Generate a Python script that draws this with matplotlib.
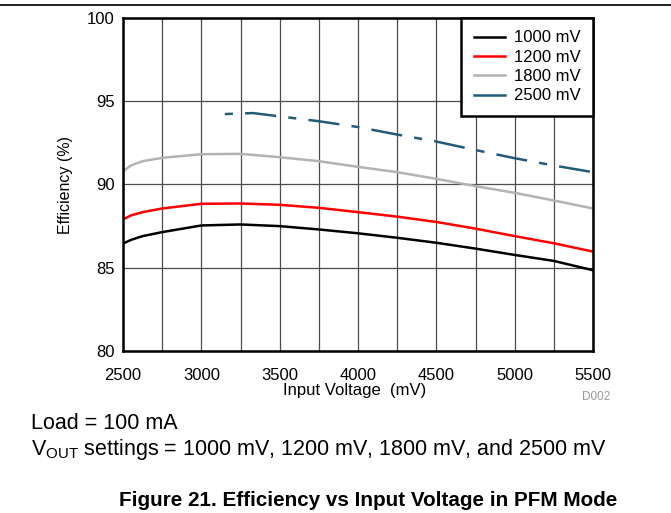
import matplotlib
matplotlib.use('Agg')
import matplotlib.pyplot as plt
from matplotlib.lines import Line2D

plt.rcParams['font.family'] = ['Liberation Sans', 'DejaVu Sans']
plt.rcParams['mathtext.fontset'] = 'custom'
plt.rcParams['mathtext.rm'] = 'Liberation Sans'
plt.rcParams['lines.scale_dashes'] = False

# ---- data ----
vin = [2500, 2550, 2625, 2750, 3000, 3250, 3500, 3750, 4000, 4250, 4500, 4750, 5000, 5250, 5500]
eff_1000 = [86.45, 86.67, 86.9, 87.14, 87.54, 87.6, 87.5, 87.3, 87.07, 86.8, 86.5, 86.15, 85.77, 85.41, 84.85]
eff_1200 = [87.9, 88.14, 88.34, 88.56, 88.84, 88.86, 88.78, 88.6, 88.34, 88.07, 87.75, 87.35, 86.9, 86.47, 85.97]
eff_1800 = [90.8, 91.14, 91.4, 91.6, 91.82, 91.84, 91.64, 91.4, 91.06, 90.74, 90.34, 89.9, 89.5, 89.04, 88.56]
vin_2500 = [3150, 3330, 3500, 3750, 4000, 4250, 4500, 4750, 5000, 5250, 5500]
eff_2500 = [94.23, 94.29, 94.09, 93.8, 93.45, 93.0, 92.58, 92.07, 91.58, 91.14, 90.74]

labels = ['1000 mV', '1200 mV', '1800 mV', '2500 mV']
colors = ['#000000', '#ff0000', '#b3b3b3', '#235a78']
x_major = [2500, 3000, 3500, 4000, 4500, 5000, 5500]
x_minor = [2750, 3250, 3750, 4250, 4750, 5250]
y_major = [80, 85, 90, 95, 100]

fig = plt.figure(figsize=(6.71, 5.13), dpi=100)
ax = fig.add_axes([123/671, 1-351/513, 470/671, 333/513])

lw = 1.8
l1, = ax.plot(vin, eff_1000, color=colors[0], lw=lw, label=labels[0])
l2, = ax.plot(vin, eff_1200, color=colors[1], lw=lw, label=labels[1])
l3, = ax.plot(vin, eff_1800, color=colors[2], lw=lw, label=labels[2])
l4, = ax.plot(vin_2500, eff_2500, color=colors[3], lw=lw,
              dashes=(5.8, 8.8, 22.5, 8.8))

ax.set_xlim(2500, 5500)
ax.set_ylim(80, 100)
ax.set_xticks(x_major)
ax.set_xticks(x_minor, minor=True)
ax.set_yticks(y_major)
ax.grid(True, which='both', color='#4d4d4d', lw=0.9)
ax.set_axisbelow(True)
ax.tick_params(which='both', length=0, labelsize=12)
ax.tick_params(axis='x', pad=12)
ax.tick_params(axis='y', pad=6)
for s in ax.spines.values():
    s.set_linewidth(1.8)
    s.set_color('black')

ax.set_xlabel('Input Voltage  (mV)', fontsize=12)
ax.xaxis.set_label_coords(0.493, -0.097)
ax.set_ylabel('Efficiency (%)', fontsize=11.5)
ax.yaxis.set_label_coords(-0.106, 0.5)

proxy = Line2D([], [], color=colors[3], lw=lw)
leg = ax.legend([l1, l2, l3, proxy], labels, loc='upper right', fontsize=12,
                borderaxespad=0, fancybox=False, framealpha=1, edgecolor='black',
                handlelength=1.85, handletextpad=0.55, labelspacing=0.26, borderpad=0.75)
leg.get_frame().set_linewidth(1.8)

fig.add_artist(Line2D([0, 1], [1-5/513, 1-5/513], transform=fig.transFigure,
                      color='black', lw=1.2))

fig.text(610/671, 1-400/513, 'D002', fontsize=8.5, color='#999999', ha='right', va='baseline')
fig.text(31/671, 1-429/513, 'Load = 100 mA', fontsize=15.5, ha='left', va='baseline')
fig.text(31/671, 1-455/513, r'V$_{\mathrm{OUT}}$ settings = 1000 mV, 1200 mV, 1800 mV, and 2500 mV',
         fontsize=15.5, ha='left', va='baseline')
fig.text(368.5/671, 1-506/513, 'Figure 21. Efficiency vs Input Voltage in PFM Mode',
         fontsize=14.9, fontweight='bold', ha='center', va='baseline')

fig.savefig('out.png', dpi=100)
